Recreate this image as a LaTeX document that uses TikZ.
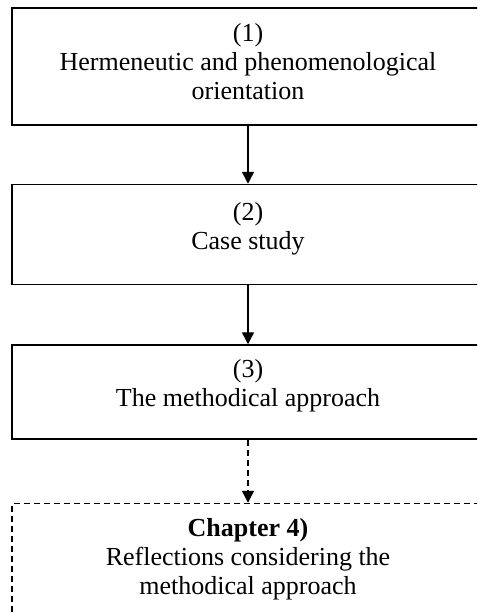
\documentclass[tikz,border=0pt]{standalone}
\usepackage{fontspec}
\setmainfont{Liberation Serif}
\usetikzlibrary{arrows.meta,positioning}

\begin{document}
\begin{tikzpicture}[x=1pt,y=1pt,
    stage/.style={draw, line width=1.5pt, minimum width=472pt, align=center,
        inner sep=0pt, font=\fontsize{26}{29}\selectfont, text depth=18pt},
    outlook/.style={stage, dash pattern=on 6pt off 4pt},
    flow/.style={line width=1.4pt, -{Triangle[width=12pt,length=12pt]}}]
\useasboundingbox (0,0) rectangle (477,-616);
\clip (0,0) rectangle (477,-616);
% the three steps and the chapter that follows them
\node[stage, minimum height=117pt, text depth=10pt] (orient) at (248,-66.5)
    {(1)\\Hermeneutic and phenomenological\\orientation};
\node[stage, minimum height=100pt, below=58pt of orient] (casestudy)
    {(2)\\Case study};
\node[stage, minimum height=94pt, below=59pt of casestudy] (method)
    {(3)\\The methodical approach};
\node[outlook, minimum height=124pt, below=63pt of method] (chapter)
    {\textbf{Chapter 4)}\\Reflections considering the\\methodical approach};
\draw[flow] (orient) -- (casestudy);
\draw[flow] (casestudy) -- (method);
\draw[flow, dash pattern=on 6pt off 4pt] (method) -- (chapter);
\end{tikzpicture}
\end{document}
